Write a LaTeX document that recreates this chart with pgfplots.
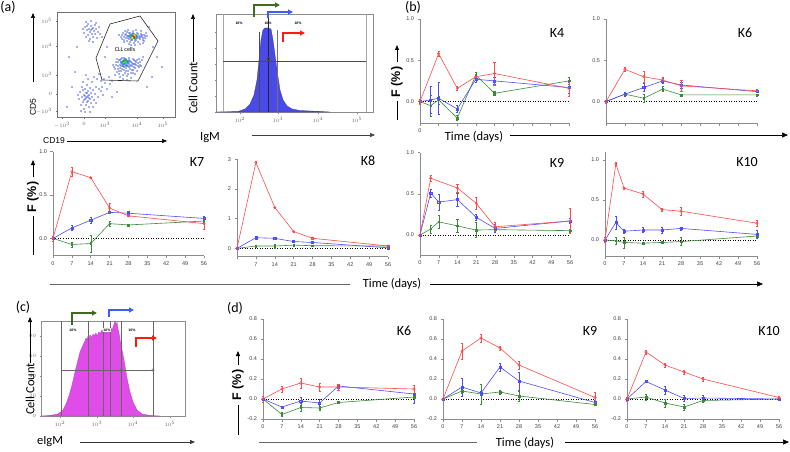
\documentclass[border=0pt]{standalone}
\usepackage{fontspec}
\setmainfont{Carlito}
\newfontfamily\arial{Liberation Sans}
\usepackage{pgfplots}
\pgfplotsset{compat=1.18}
\usetikzlibrary{arrows.meta}
\definecolor{lr}{HTML}{FF4B4B}
\definecolor{lb}{HTML}{4D4DFF}
\definecolor{lg}{HTML}{3A8A3A}
\definecolor{ag}{HTML}{3F6B21}
\definecolor{ab}{HTML}{3D5CFF}
\definecolor{ar}{HTML}{FF1A1A}
\definecolor{hb}{HTML}{4A4AE8}
\definecolor{hm}{HTML}{E04CE8}
\definecolor{dotb}{HTML}{4A5EE8}
\newcommand\tf{\arial\fontsize{5.5}{6}\selectfont}
\newcommand\kf{\fontsize{14}{16}\selectfont}
\newcommand\lf{\fontsize{12.5}{14}\selectfont}
\newcommand\ff{\arial\bfseries\fontsize{12.5}{13}\selectfont}
\pgfplotsset{
  tpanel/.style={scale only axis, axis x line*=bottom, axis y line*=left,
    axis line style={black!45, line width=0.6pt},
    tick style={black!45, line width=0.5pt}, tick align=outside, major tick length=2.5pt,
    xmin=0, xmax=56, xtick={0,7,...,56}, clip=false,
    tick label style={font=\tf, text=black!75},
    /pgf/number format/assume math mode=true},
  yf/.style={yticklabel style={/pgf/number format/fixed, /pgf/number format/fixed zerofill, /pgf/number format/precision=1}},
  rs/.style={lr, line width=0.6pt, mark=o, mark size=1.2pt, mark options={solid, line width=0.5pt},
    /pgfplots/error bars/y dir=both, /pgfplots/error bars/y explicit,
    /pgfplots/error bars/error bar style={lr, line width=0.45pt},
    /pgfplots/error bars/error mark options={lr, rotate=90, mark size=1.1pt, line width=0.45pt}},
  bs/.style={lb, line width=0.6pt, mark=square, mark size=1.1pt, mark options={solid, line width=0.5pt},
    /pgfplots/error bars/y dir=both, /pgfplots/error bars/y explicit,
    /pgfplots/error bars/error bar style={lb, line width=0.45pt},
    /pgfplots/error bars/error mark options={lb, rotate=90, mark size=1.1pt, line width=0.45pt}},
  gs/.style={lg, line width=0.6pt, mark=square*, mark size=0.8pt, mark options={solid},
    /pgfplots/error bars/y dir=both, /pgfplots/error bars/y explicit,
    /pgfplots/error bars/error bar style={lg, line width=0.45pt},
    /pgfplots/error bars/error mark options={lg, rotate=90, mark size=1.1pt, line width=0.45pt}},
  zl/.style={black, dotted, line width=0.5pt, forget plot},
}
\begin{document}
\begin{tikzpicture}[x=1pt,y=1pt]
\useasboundingbox (0,0) rectangle (790,451);

% ================= (a) dot plot =================
\begin{axis}[scale only axis, width=118pt, height=105pt, at={(57pt,334pt)}, anchor=south west,
  xmin=0, xmax=118, ymin=0, ymax=105, axis line style={black!55, line width=0.5pt},
  tick style={black!55}, tick align=outside, major tick length=1.5pt,
  xtick pos=left, ytick pos=left,
  xtick={5,27,48,80,106}, xticklabels={$-10^3$,$0$,$10^3$,$10^4$,$10^5$},
  ytick={6,23,42,71,96}, yticklabels={$-10^3$,$0$,$10^3$,$10^4$,$10^5$},
  tick label style={font=\fontsize{3.5}{4}\selectfont, text=black!60}, clip=false]
\addplot[only marks, mark=*, mark size=0.5pt, dotb, opacity=0.85] coordinates {
(64,80)(66,84)(67,77)(68,82)(69,79)(70,85)(70,76)(71,81)(72,78)(73,84)(73,75)(74,80)(75,83)(75,77)(76,86)(77,79)(77,74)(78,82)(79,77)(80,84)(80,79)(81,75)(82,81)(83,78)(84,83)(85,80)(86,77)(87,82)(88,79)(90,81)(65,78)(68,86)(71,87)(79,87)(84,86)(86,74)(89,84)(62,82)(74,72)(83,73)
(65,82)(67,80)(69,83)(71,79)(72,84)(74,77)(76,84)(78,76)(80,81)(82,79)(84,81)(86,79)(88,81)(70,81)(73,82)(75,78)(77,83)(79,79)(81,83)(83,80)(85,82)(67,75)(72,73)(78,72)(87,76)
(56,52)(58,48)(59,55)(60,45)(61,51)(62,57)(62,43)(63,49)(64,54)(64,46)(65,59)(66,51)(66,42)(67,56)(67,47)(68,53)(68,44)(69,58)(69,49)(70,55)(70,41)(71,51)(71,46)(72,57)(72,53)(73,48)(74,55)(74,44)(75,51)(76,58)(76,47)(77,53)(78,56)(78,49)(79,52)(80,57)(81,54)(82,58)(83,55)(85,57)(60,58)(63,40)(66,38)(70,37)(74,39)(78,43)(82,50)(86,60)(84,51)(58,42)
(57,50)(59,52)(61,48)(61,55)(63,52)(63,57)(65,48)(65,55)(67,50)(67,59)(69,52)(69,46)(71,54)(71,43)(73,51)(73,56)(75,47)(75,54)(77,50)(77,57)(79,55)(81,51)(83,52)(80,46)(76,44)(62,46)(64,51)(66,53)(68,51)(70,52)(72,50)(74,52)(76,53)(78,53)(68,58)(72,59)(64,58)
(27,84)(28,90)(29,80)(30,87)(31,93)(31,82)(32,88)(33,78)(33,85)(34,91)(35,83)(35,88)(36,80)(37,86)(38,92)(38,83)(39,88)(40,79)(41,85)(29,95)(34,96)(36,75)(42,90)(26,88)(32,76)(39,94)(43,83)(30,91)(36,89)(34,87)
(22,18)(23,25)(24,12)(25,30)(25,20)(26,15)(26,35)(27,22)(27,8)(28,28)(28,18)(29,24)(29,12)(30,20)(30,32)(31,16)(31,26)(32,22)(32,10)(33,29)(33,18)(34,24)(34,14)(35,35)(35,20)(36,27)(36,10)(37,17)(37,40)(38,23)(39,30)(39,14)(40,38)(41,20)(42,43)(44,36)(21,22)(24,6)(28,5)(31,38)(29,42)(33,5)(26,27)(30,15)(32,19)(28,21)(30,24)(27,17)(31,21)(29,19)
(45,30)(48,34)(50,28)(47,38)(52,40)(55,36)(44,26)(46,22)(53,33)(42,28)
(12,60)(18,45)(50,70)(95,40)(100,60)(20,70)(90,30)(105,50)(55,20)(60,25)(15,30)(10,10)(48,60)(45,80)(92,90)(96,70)
};
\addplot[only marks, mark=*, mark size=0.7pt, cyan!70!blue] coordinates {(72,81)(74,79)(78,78)(76,83)(79,81)(73,80)(80,80)(64,55)(66,56)(70,54)(67,53)(69,57)(71,56)(65,53)(72,55)(66,51)(70,51)};
\addplot[only marks, mark=*, mark size=0.7pt, green!70!black] coordinates {(75,81)(77,79)(78,80)(74,82)(79,82)(66,55)(68,56)(70,56)(68,54)(67,57)};
\addplot[only marks, mark=*, mark size=0.7pt, yellow!90!orange] coordinates {(76,80)(77,82)(75,79)(78,81)};
\addplot[only marks, mark=*, mark size=0.7pt, red!85!black] coordinates {(76,81)(77,80)};
\addplot[black!85, line width=0.6pt] coordinates {(53,93)(83,101)(101,76)(81,36)(45,37)(39,59)(53,93)};
\node[font=\fontsize{6}{7}\selectfont] at (axis cs:68,68) {CLL cells};
\end{axis}
\node[rotate=90, font=\arial\fontsize{8.5}{9}\selectfont] at (33,344) {CD5};
\draw[-{Triangle[length=5pt,width=4pt]}, line width=0.6pt] (33,369) -- (33,438);
\node[font=\arial\fontsize{8.5}{9}\selectfont] at (54,310) {CD19};
\draw[-{Triangle[length=5pt,width=4pt]}, line width=0.6pt] (67,310) -- (167,310);

% ================= (a) IgM histogram =================
\begin{axis}[scale only axis, width=157pt, height=98pt, at={(216pt,339pt)}, anchor=south west,
  xmin=0, xmax=157, ymin=0, ymax=98, axis line style={black!45, line width=0.5pt},
  tick style={black!45}, tick align=outside, major tick length=1.5pt,
  xtick pos=left, ytick pos=left,
  xtick={24,62,102,141}, xticklabels={$10^2$,$10^3$,$10^4$,$10^5$},
  ytick={0,16,32,48,64,80}, yticklabels={},
  tick label style={font=\fontsize{3.5}{4}\selectfont, text=black!60}, clip=false]
\addplot[fill=hb, draw=hb!70!black, line width=0.3pt] coordinates {
(0,0)(22,0.5)(29,3)(34,8)(38,17)(41,32)(43,52)(45,72)(47,82)(49,84)(52,84)(55,83)(57,72)(59,57)(61,42)(64,22)(67,12)(71,6)(76,3)(84,1.5)(104,0.5)(114,0)} \closedcycle;
\addplot[black!35, line width=0.5pt] coordinates {(7,0)(7,98)};
\addplot[black!35, line width=0.5pt] coordinates {(150,0)(150,98)};
\addplot[black!70, line width=0.5pt] coordinates {(43,0)(43,80)};
\addplot[black!85, line width=0.7pt] coordinates {(52,0)(52,98)};
\addplot[black!55, line width=0.5pt] coordinates {(61,0)(61,82)};
\addplot[black!70, line width=0.5pt] coordinates {(7,51)(150,51)};
\addplot[only marks, mark=square, mark size=1.3pt, black!70] coordinates {(52,53)};
\node[font=\arial\bfseries\fontsize{3.5}{4}\selectfont] at (axis cs:23,89) {10\%};
\node[font=\arial\bfseries\fontsize{3.5}{4}\selectfont] at (axis cs:52,89) {10\%};
\node[font=\arial\bfseries\fontsize{3.5}{4}\selectfont] at (axis cs:82,89) {10\%};
\end{axis}
\node[rotate=90, font=\lf] at (193,363) {Cell Count};
\draw[-{Triangle[length=5pt,width=4pt]}, line width=0.6pt] (193,389) -- (193,437);
\node[font=\lf] at (210,313) {IgM};
\draw[-{Triangle[length=5pt,width=4pt]}, line width=0.6pt, black!75] (252,316) -- (375,316);
\draw[ag, line width=1.5pt, -{Triangle[length=5pt,width=5pt]}] (254,434) -- (254,446) -- (280,446);
\draw[ab, line width=1.5pt, -{Triangle[length=5pt,width=5pt]}] (268,433) -- (268,439) -- (293,439);
\draw[ar, line width=1.5pt, -{Triangle[length=5pt,width=5pt]}] (283,409) -- (283,418) -- (305,418);
\node[font=\kf] at (8,444) {(a)};

% ================= (b) K4 =================
\begin{axis}[tpanel, yf, width=149pt, height=104pt, at={(420pt,328pt)}, anchor=south west,
  ymin=-0.26, ymax=1.0, ytick={0,0.5,1}, xticklabels={0,,,,,,,,}]
\addplot[zl] coordinates {(0,0)(56,0)};
\addplot[gs] table[x=x,y=y,y error=e] {
x y e
0 0 0.01
4 -0.05 0.13
7 0.02 0.05
14 -0.20 0.03
21 0.32 0.03
28 0.10 0.02
56 0.25 0.04
};
\addplot[bs] table[x=x,y=y,y error=e] {
x y e
0 0 0.02
4 0.02 0.16
7 0.04 0.19
14 -0.09 0.04
21 0.27 0.03
28 0.25 0.04
56 0.17 0.07
};
\addplot[rs] table[x=x,y=y,y error=e] {
x y e
0 0 0.03
7 0.58 0.03
14 0.16 0.02
21 0.30 0.03
28 0.34 0.14
56 0.16 0.10
};
\end{axis}
\node[font=\kf] at (557,418) {K4};

% ================= (b) K6 =================
\begin{axis}[tpanel, yf, width=151pt, height=104pt, at={(606pt,328pt)}, anchor=south west,
  ymin=-0.26, ymax=1.0, ytick={0,0.5,1}, xticklabels={}]
\addplot[zl] coordinates {(0,0)(56,0)};
\addplot[gs] table[x=x,y=y,y error=e] {
x y e
0 0 0.01
7 0.09 0.02
14 0.04 0.05
21 0.15 0.03
28 0.08 0.01
56 0.08 0.01
};
\addplot[bs] table[x=x,y=y,y error=e] {
x y e
0 0 0.01
7 0.09 0.02
14 0.17 0.05
21 0.25 0.03
28 0.20 0.04
56 0.12 0.01
};
\addplot[rs] table[x=x,y=y,y error=e] {
x y e
0 0 0.02
7 0.39 0.02
14 0.30 0.07
21 0.26 0.03
28 0.19 0.07
56 0.13 0.02
};
\end{axis}
\node[font=\kf] at (745,418) {K6};
\node[font=\kf] at (413,444) {(b)};
\draw[line width=0.8pt] (397,331) -- (397,350);
\node[rotate=90, font=\ff] at (397,369) {F (\%)};
\draw[line width=0.8pt, -{Triangle[length=5pt,width=4pt]}] (397,389) -- (397,406);
\node[font=\lf] at (474,314) {Time (days)};
\draw[line width=0.6pt, -{Triangle[length=6pt,width=5pt]}] (510,316) -- (788,316);

% ================= (b) K7 =================
\begin{axis}[tpanel, yf, width=151pt, height=104pt, at={(53pt,195.3pt)}, anchor=south west,
  ymin=-0.2, ymax=1.0, ytick={0,0.5,1}]
\addplot[zl] coordinates {(0,0)(56,0)};
\addplot[gs] table[x=x,y=y,y error=e] {
x y e
0 0 0.01
7 -0.07 0.03
14 -0.06 0.10
21 0.17 0.03
28 0.155 0.01
56 0.20 0.02
};
\addplot[bs] table[x=x,y=y,y error=e] {
x y e
0 0 0.01
7 0.12 0.03
14 0.21 0.03
21 0.30 0.01
28 0.29 0.02
56 0.23 0.03
};
\addplot[rs] table[x=x,y=y,y error=e] {
x y e
0 0 0.03
7 0.77 0.05
14 0.70 0.01
21 0.35 0.05
28 0.26 0.01
56 0.17 0.07
};
\end{axis}
\node[font=\kf] at (197,289) {K7};

% ================= (b) K8 =================
\begin{axis}[tpanel, width=151pt, height=97.4pt, at={(237pt,194.3pt)}, anchor=south west,
  ymin=-0.28, ymax=3, ytick={0,1,2,3}, xticklabels={,7,14,21,28,35,42,49,56}]
\addplot[zl] coordinates {(0,0)(56,0)};
\addplot[gs] table[x=x,y=y,y error=e] {
x y e
0 0 0.01
7 0.08 0.02
14 0.08 0.06
21 0.11 0.02
28 0.09 0.02
56 0.08 0.02
};
\addplot[bs] table[x=x,y=y,y error=e] {
x y e
0 0 0.01
7 0.36 0.02
14 0.34 0.02
21 0.23 0.02
28 0.20 0.02
56 0.02 0.02
};
\addplot[rs] table[x=x,y=y,y error=e] {
x y e
0 0 0.02
7 2.89 0.03
14 1.38 0.02
21 0.57 0.02
28 0.34 0.02
56 0.08 0.03
};
\end{axis}
\node[font=\kf] at (368,290) {K8};

% ================= (b) K9 =================
\begin{axis}[tpanel, yf, width=150pt, height=102.3pt, at={(420pt,196pt)}, anchor=south west,
  ymin=-0.243, ymax=1.0, ytick={0,0.5,1}]
\addplot[zl] coordinates {(0,0)(56,0)};
\addplot[gs] table[x=x,y=y,y error=e] {
x y e
0 0 0.01
4 0.073 0.05
7 0.16 0.08
14 0.11 0.08
21 0.06 0.09
28 0.065 0.02
56 0.053 0.02
};
\addplot[bs] table[x=x,y=y,y error=e] {
x y e
0 0 0.01
4 0.51 0.05
7 0.40 0.10
14 0.43 0.08
21 0.215 0.04
28 0.08 0.05
56 0.17 0.03
};
\addplot[rs] table[x=x,y=y,y error=e] {
x y e
0 0 0.01
4 0.69 0.04
14 0.57 0.05
21 0.385 0.07
28 0.10 0.05
56 0.17 0.15
};
\end{axis}
\node[font=\kf] at (557,288) {K9};

% ================= (b) K10 =================
\begin{axis}[tpanel, yf, width=152pt, height=104pt, at={(605pt,195pt)}, anchor=south west,
  ymin=-0.2, ymax=1.1, ytick={0,0.5,1}]
\addplot[zl] coordinates {(0,0)(56,0)};
\addplot[gs] table[x=x,y=y,y error=e] {
x y e
0 0 0.01
4 -0.01 0.04
7 -0.03 0.07
14 -0.04 0.01
21 -0.03 0.01
28 -0.02 0.05
56 0.05 0.01
};
\addplot[bs] table[x=x,y=y,y error=e] {
x y e
0 0 0.01
4 0.22 0.08
7 0.11 0.03
14 0.125 0.03
21 0.125 0.04
28 0.145 0.02
56 0.07 0.05
};
\addplot[rs] table[x=x,y=y,y error=e] {
x y e
0 0 0.03
4 0.95 0.02
7 0.65 0.01
14 0.575 0.04
21 0.38 0.02
28 0.36 0.05
56 0.21 0.04
};
\end{axis}
\node[font=\kf] at (747,289) {K10};
\draw[line width=0.8pt] (33,196) -- (33,235);
\node[rotate=90, font=\ff] at (33,254) {F (\%)};
\draw[line width=0.8pt, -{Triangle[length=5pt,width=4pt]}] (33,274) -- (33,291);
\draw[line width=0.6pt, black!60] (50,167) -- (350,167);
\node[font=\lf] at (392,167) {Time (days)};
\draw[line width=0.6pt, -{Triangle[length=6pt,width=5pt]}] (430,167) -- (763,167);

% ================= (c) eIgM histogram =================
\begin{axis}[scale only axis, width=144pt, height=95pt, at={(41pt,35pt)}, anchor=south west,
  xmin=0, xmax=144, ymin=0, ymax=95, axis line style={black!45, line width=0.5pt},
  tick style={black!45}, tick align=outside, major tick length=1.5pt,
  xtick pos=left, ytick pos=left,
  xtick={19,56,92,129}, xticklabels={$10^2$,$10^3$,$10^4$,$10^5$},
  ytick={}, tick label style={font=\fontsize{3.5}{4}\selectfont, text=black!60}, clip=false]
\addplot[fill=hm, draw=hm!80!black, line width=0.3pt] coordinates {
(0,0)(9,0.5)(17,2)(22,6)(25,12)(28,20)(31,31)(34,44)(37,56)(39,64)(42,71)(44,75)(45,78)(46,76)(47,80)(48,77)(49,81)(51,79)(52,82)(53,80)(55,83)(56,80)(58,84)(59,82)(61,86)(62,83)(64,85)(65,82)(67,87)(68,84)(70,88)(71,86)(73,92)(74,95)(75,91)(76,94)(77,87)(78,83)(80,71)(83,56)(86,38)(89,24)(92,14)(96,6)(101,2)(109,0.5)(119,0)} \closedcycle;
\addplot[black!60, line width=0.5pt] coordinates {(20,0)(20,95)};
\addplot[black!60, line width=0.5pt] coordinates {(47,0)(47,95)};
\addplot[black!60, line width=0.5pt] coordinates {(62,0)(62,95)};
\addplot[black!60, line width=0.5pt] coordinates {(69,0)(69,95)};
\addplot[black!60, line width=0.5pt] coordinates {(80,0)(80,95)};
\addplot[black!60, line width=0.5pt] coordinates {(112,0)(112,95)};
\addplot[black!60, line width=0.5pt] coordinates {(20,46)(112,46)};
\addplot[only marks, mark=o, mark size=1.4pt, black!60] coordinates {(80,46)(112,46)};
\node[font=\arial\bfseries\fontsize{3.5}{4}\selectfont, fill=white, inner sep=0.5pt] at (axis cs:32,86) {10\%};
\node[font=\arial\bfseries\fontsize{3.5}{4}\selectfont, fill=white, inner sep=0.5pt] at (axis cs:66,86) {10\%};
\node[font=\arial\bfseries\fontsize{3.5}{4}\selectfont, fill=white, inner sep=0.5pt] at (axis cs:91,86) {10\%};
\end{axis}
\node[rotate=90, font=\lf] at (30,62) {Cell Count};
\draw[-{Triangle[length=5pt,width=4pt]}, line width=0.6pt] (30,88) -- (30,134);
\node[font=\lf] at (50,9) {eIgM};
\draw[-{Triangle[length=5pt,width=4pt]}, line width=0.6pt, black!80] (80,9) -- (195,9);
\draw[ag, line width=1.5pt, -{Triangle[length=5pt,width=5pt]}] (72,126) -- (72,138) -- (97,138);
\draw[ab, line width=1.5pt, -{Triangle[length=5pt,width=5pt]}] (109,134) -- (109,141) -- (134,141);
\draw[ar, line width=1.5pt, -{Triangle[length=5pt,width=5pt]}] (136,104) -- (136,113) -- (157,113);
\node[font=\kf] at (23,144) {(c)};

% ================= (d) K6 =================
\begin{axis}[tpanel, yf, width=151pt, height=100pt, at={(263pt,32pt)}, anchor=south west,
  ymin=-0.2, ymax=0.8, ytick={-0.2,0,0.2,0.4,0.6,0.8}]
\addplot[zl] coordinates {(0,0)(56,0)};
\addplot[gs] table[x=x,y=y,y error=e] {
x y e
0 0 0.01
7 -0.155 0.02
14 -0.085 0.04
21 -0.09 0.02
28 -0.035 0.01
56 0.02 0.01
};
\addplot[bs] table[x=x,y=y,y error=e] {
x y e
0 0 0.01
7 -0.08 0.01
14 -0.02 0.04
21 -0.04 0.04
28 0.13 0.02
56 0.05 0.09
};
\addplot[rs] table[x=x,y=y,y error=e] {
x y e
0 0 0.03
7 0.10 0.03
14 0.16 0.05
21 0.12 0.04
28 0.12 0.03
56 0.10 0.04
};
\end{axis}
\node[font=\kf] at (404,120) {K6};

% ================= (d) K9 =================
\begin{axis}[tpanel, yf, width=152pt, height=100pt, at={(443pt,32pt)}, anchor=south west,
  ymin=-0.2, ymax=0.8, ytick={-0.2,0,0.2,0.4,0.6,0.8}]
\addplot[zl] coordinates {(0,0)(56,0)};
\addplot[gs] table[x=x,y=y,y error=e] {
x y e
0 0 0.01
7 0.08 0.02
14 0.05 0.10
21 0.07 0.02
28 0.03 0.05
56 -0.055 0.01
};
\addplot[bs] table[x=x,y=y,y error=e] {
x y e
0 0 0.01
7 0.12 0.09
14 0.06 0.02
21 0.32 0.04
28 0.18 0.09
56 -0.035 0.02
};
\addplot[rs] table[x=x,y=y,y error=e] {
x y e
0 0 0.01
7 0.48 0.08
14 0.61 0.04
21 0.51 0.02
28 0.34 0.04
56 0.015 0.05
};
\end{axis}
\node[font=\kf] at (590,120) {K9};

% ================= (d) K10 =================
\begin{axis}[tpanel, yf, width=152pt, height=100pt, at={(627pt,32pt)}, anchor=south west,
  ymin=-0.2, ymax=0.8, ytick={-0.2,0,0.2,0.4,0.6,0.8}]
\addplot[zl] coordinates {(0,0)(56,0)};
\addplot[gs] table[x=x,y=y,y error=e] {
x y e
0 0 0.01
7 0.02 0.03
14 -0.04 0.04
21 -0.08 0.03
28 -0.015 0.02
56 0 0.01
};
\addplot[bs] table[x=x,y=y,y error=e] {
x y e
0 0 0.01
7 0.175 0.01
14 0.09 0.04
21 0.005 0.03
28 0.01 0.03
56 0 0.01
};
\addplot[rs] table[x=x,y=y,y error=e] {
x y e
0 0 0.02
7 0.47 0.02
14 0.34 0.02
21 0.27 0.02
28 0.20 0.02
56 0.015 0.01
};
\end{axis}
\node[font=\kf] at (769,120) {K10};
\node[font=\kf] at (235,143) {(d)};
\draw[line width=0.8pt] (238,16) -- (238,46);
\node[rotate=90, font=\ff] at (238,66) {F (\%)};
\draw[line width=0.8pt, -{Triangle[length=5pt,width=4pt]}] (238,86) -- (238,100);
\draw[line width=0.6pt, black!60] (259,9) -- (477,9);
\node[font=\lf] at (525,8) {Time (days)};
\draw[line width=0.6pt, -{Triangle[length=6pt,width=5pt]}] (565,9) -- (789,9);
\end{tikzpicture}
\end{document}
